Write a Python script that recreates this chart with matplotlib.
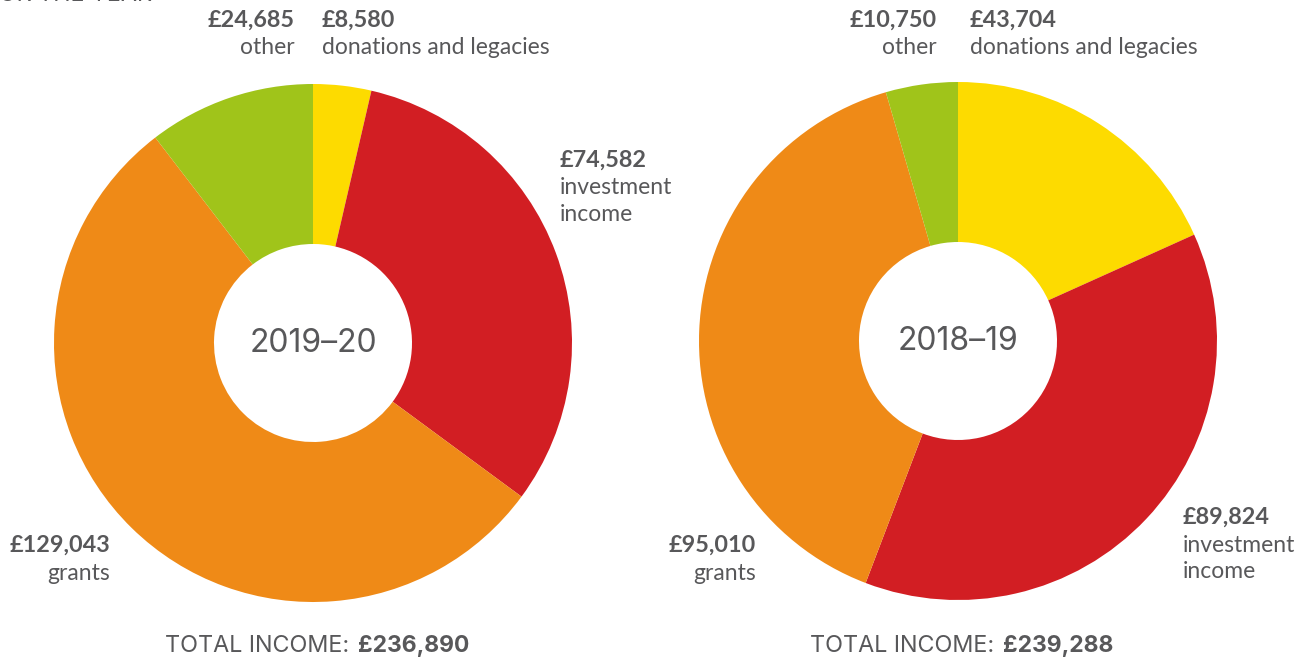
import matplotlib.pyplot as plt

# income by source, wedges drawn clockwise from 12 o'clock
categories = ["donations and legacies", "investment income", "grants", "other"]
colors = ["#FDDB00", "#D21E23", "#EF8A17", "#A0C41A"]
years = ["2019–20", "2018–19"]
income_2019_20 = [8580, 74582, 129043, 24685]
income_2018_19 = [43704, 89824, 95010, 10750]

W, H = 1314, 658
grey = "#58585A"
plt.rcParams["font.family"] = ["Lato", "DejaVu Sans"]

fig = plt.figure(figsize=(W / 100, H / 100), dpi=100)
ax = fig.add_axes([0, 0, 1, 1])


def py(y):
    # pixel row -> data y
    return H - y


def label(x, y, value, lines, ha):
    ax.text(x, py(y), f"£{value:,}", ha=ha, va="center", fontsize=16.8,
            fontweight="bold", color=grey)
    for i, line in enumerate(lines):
        ax.text(x, py(y + 28 + 26.5 * i), line, ha=ha, va="center",
                fontsize=16.5, color=grey)


def donut(cx, cy, values, year, labels):
    ax.pie(values, colors=colors, startangle=90, counterclock=False,
           center=(cx, py(cy)), radius=259,
           wedgeprops=dict(width=160, edgecolor="none"))
    ax.text(cx, py(cy), year, ha="center", va="center", fontsize=23,
            color=grey, family=["Inter", "DejaVu Sans"])
    for (x, y, ha, lines), v in zip(labels, values):
        label(x, y, v, lines, ha)
    total = sum(values)
    ax.text(cx + 36, py(646), "TOTAL INCOME:", ha="right", va="center",
            fontsize=16.8, color=grey, family=["Inter", "DejaVu Sans"])
    ax.text(cx + 45, py(646), f"£{total:,}", ha="left", va="center",
            fontsize=16.5, color=grey, fontweight="bold",
            family=["Inter", "DejaVu Sans"])


donut(313, 343, income_2019_20, years[0], [
    (322, 20, "left", ["donations and legacies"]),
    (560, 160, "left", ["investment", "income"]),
    (110, 545, "right", ["grants"]),
    (295, 20, "right", ["other"]),
])
donut(958, 341, income_2018_19, years[1], [
    (970, 20, "left", ["donations and legacies"]),
    (1183, 517, "left", ["investment", "income"]),
    (756, 545, "right", ["grants"]),
    (937, 20, "right", ["other"]),
])

# heading cut off by the top edge, as in the source page
ax.text(152, py(6), "INCOME FOR THE YEAR", ha="right", va="bottom",
        fontsize=16.8, color=grey, family=["Inter", "DejaVu Sans"])

ax.set_xlim(0, W)
ax.set_ylim(0, H)
ax.set_aspect("auto")
ax.axis("off")

fig.savefig("out.png", dpi=100)
